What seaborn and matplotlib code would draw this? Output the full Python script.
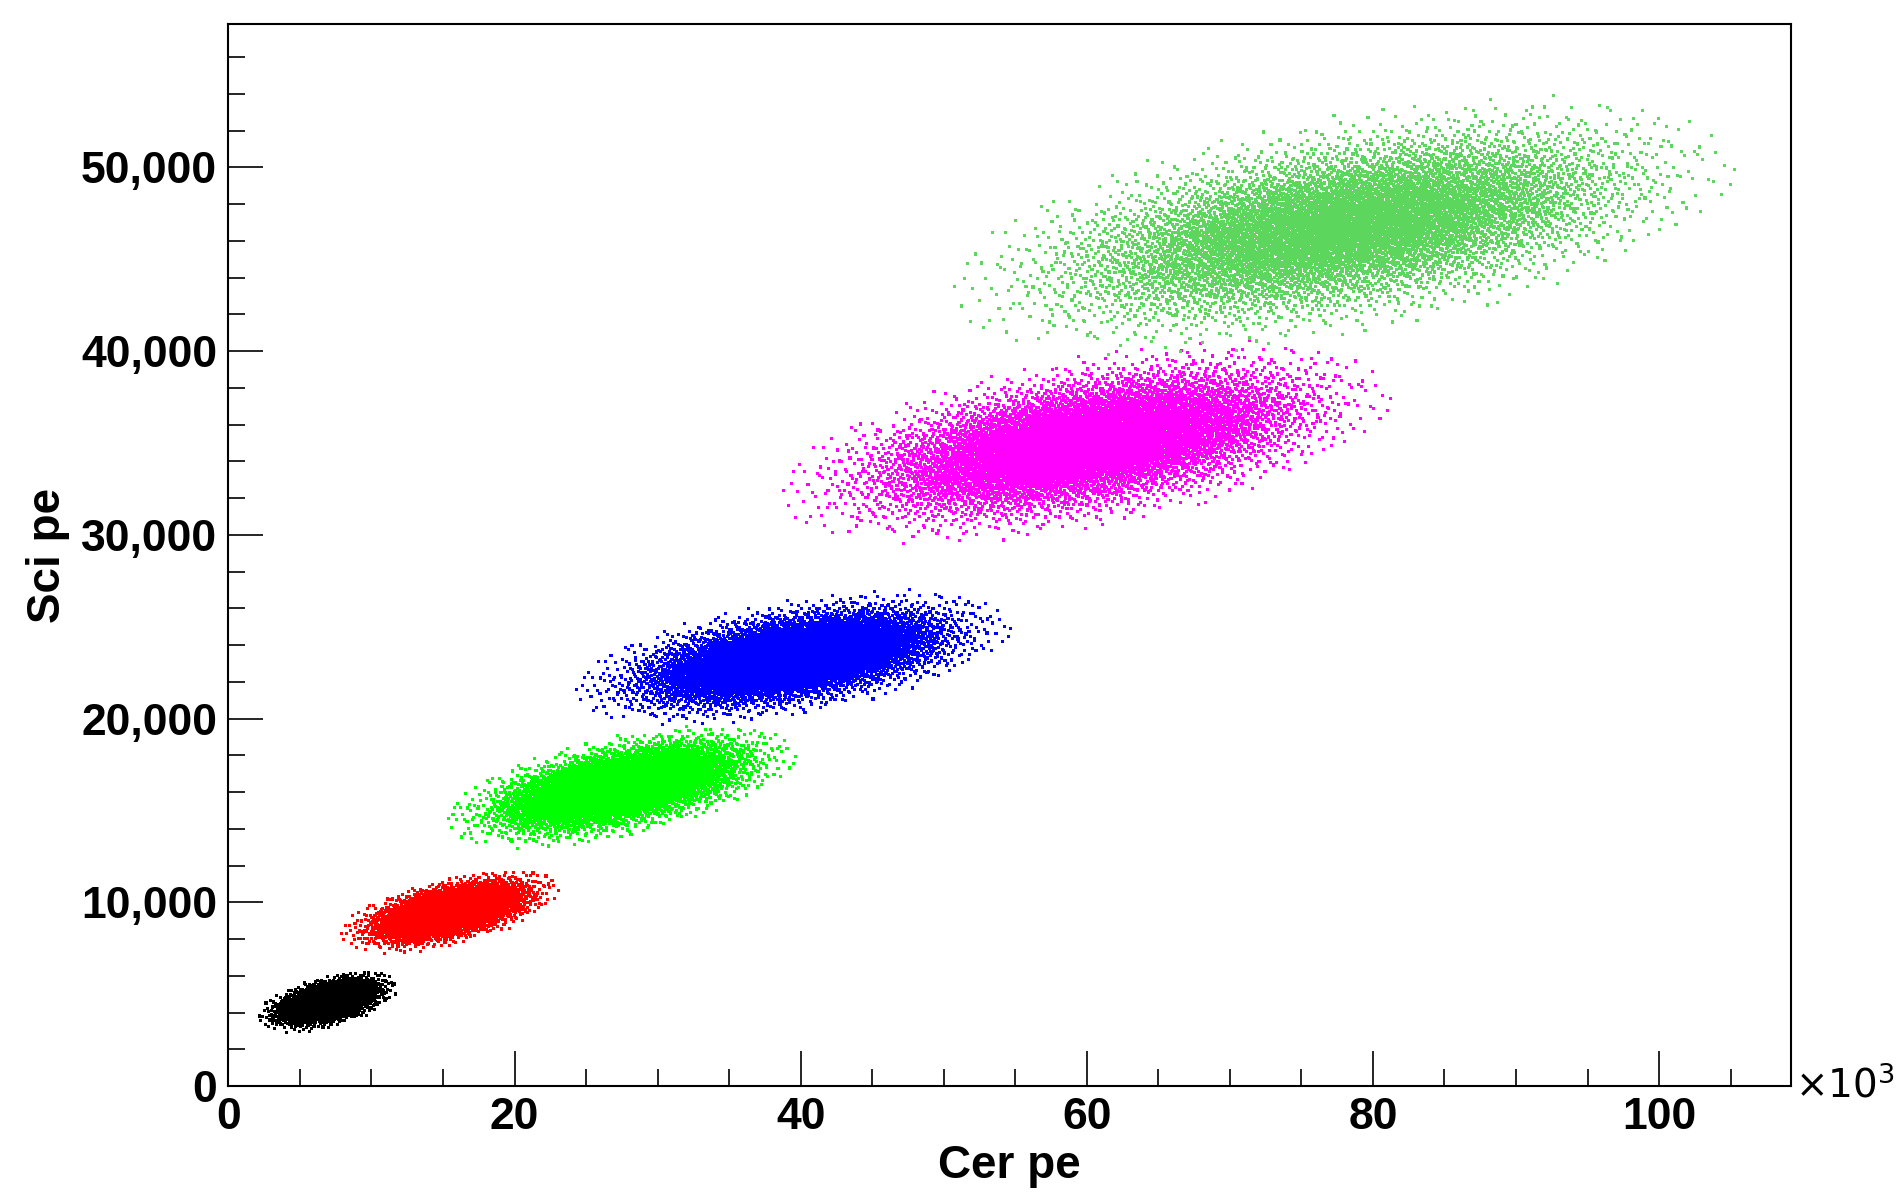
import numpy as np
import pandas as pd
import matplotlib
matplotlib.use("Agg")
import matplotlib.pyplot as plt
import seaborn as sns
from matplotlib.ticker import MultipleLocator, FuncFormatter

# Cluster summaries (Cer pe in units of 1e3, Sci pe)
names   = ["E1", "E2", "E3", "E4", "E5", "E6"]
cer_mu  = [7.0, 15.5, 27.5, 39.5, 60.0, 78.0]
cer_sd  = [1.6, 2.5, 4.0, 5.0, 7.0, 9.0]
sci_mu  = [4600, 9500, 16300, 23300, 35000, 46800]
sci_sd  = [550, 750, 1100, 1200, 1800, 2300]
corr    = [0.5, 0.55, 0.55, 0.5, 0.5, 0.5]
counts  = [3000, 4000, 6000, 7000, 8000, 8000]
colors  = ["#000000", "#ff0000", "#00ff00", "#0000ff", "#ff00ff", "#5cd65c"]

def halton(n, base):
    seq = np.zeros(n)
    for i in range(n):
        f, r, k = 1.0, 0.0, i + 1
        while k > 0:
            f /= base
            r += f * (k % base)
            k //= base
        seq[i] = r
    return seq

from statistics import NormalDist
nd = NormalDist()
rows = []
for nm, mx, sx, my, sy, rho, n in zip(names, cer_mu, cer_sd, sci_mu, sci_sd, corr, counts):
    u1 = np.clip(halton(n, 2), 1e-4, 1 - 1e-4)
    u2 = np.clip(halton(n, 3), 1e-4, 1 - 1e-4)
    z1 = np.array([nd.inv_cdf(v) for v in u1])
    z2 = np.array([nd.inv_cdf(v) for v in u2])
    keep = (z1**2 + z2**2) < 3.1**2
    z1, z2 = z1[keep], z2[keep]
    x = mx + sx * z1
    y = my + sy * (rho * z1 + np.sqrt(1 - rho**2) * z2)
    rows.append(pd.DataFrame({"cer": x, "sci": y, "grp": nm}))
df = pd.concat(rows)

sns.set_theme(style="white")
plt.rcParams["font.family"] = ["Liberation Sans", "DejaVu Sans"]
plt.rcParams["text.color"] = "black"
plt.rcParams["xtick.color"] = "black"
plt.rcParams["ytick.color"] = "black"
plt.rcParams["axes.labelcolor"] = "black"
fig = plt.figure(figsize=(19.03, 12.04), dpi=100)
ax = fig.add_axes([0.12, 0.098, 0.821, 0.882])
sns.scatterplot(data=df, x="cer", y="sci", hue="grp", palette=colors,
                s=5, marker="s", linewidth=0, legend=False, ax=ax)
ax.set_xlim(0, 109.2)
ax.set_ylim(0, 57800)
for s in ax.spines.values():
    s.set_color("black"); s.set_linewidth(1.5)
ax.xaxis.set_major_locator(MultipleLocator(20))
ax.xaxis.set_minor_locator(MultipleLocator(5))
ax.yaxis.set_major_locator(MultipleLocator(10000))
ax.yaxis.set_minor_locator(MultipleLocator(2000))
ax.yaxis.set_major_formatter(FuncFormatter(lambda v, p: f"{int(v):,}"))
ax.tick_params(which="both", direction="in", bottom=True, left=True, top=False, right=False, color="black")
ax.tick_params(which="major", length=25, width=1.2, labelsize=32, pad=8)
ax.tick_params(which="minor", length=12, width=1.2)
for lab in ax.get_xticklabels() + ax.get_yticklabels():
    lab.set_fontweight("bold")
ax.set_xlabel("Cer pe", fontsize=33, fontweight="bold", labelpad=4)
ax.set_ylabel("Sci pe", fontsize=33, fontweight="bold", labelpad=8)
ax.text(1.003, 0.0, r"$\times10^{3}$", transform=ax.transAxes, fontsize=28, va="center", ha="left")
fig.savefig("out.png", dpi=100, facecolor="white")
